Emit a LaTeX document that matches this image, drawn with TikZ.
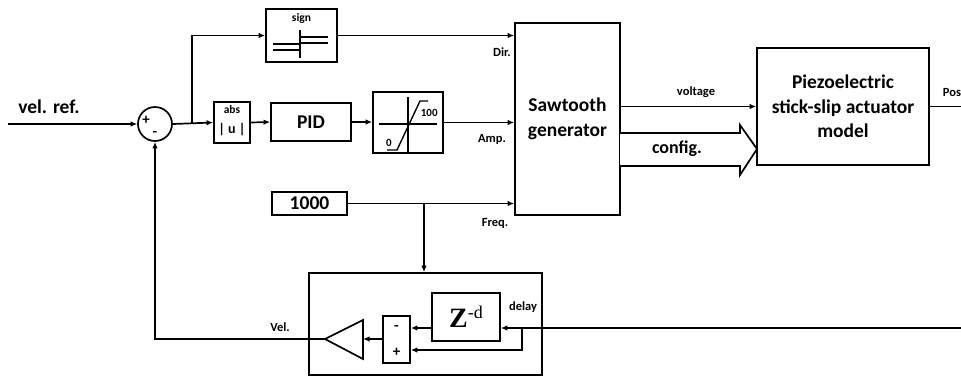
\documentclass[tikz,border=0pt]{standalone}
\usepackage{fontspec}
\setmainfont{Carlito}
\newfontfamily\zfont{Liberation Serif}
\usetikzlibrary{arrows.meta}
\tikzset{sig/.style={line width=1.7pt, -{Latex[length=6.5pt,width=5.5pt]}},
  blk/.style={draw, line width=1.7pt, inner sep=0pt, fill=white},
  big/.style={font=\fontsize{19.5}{24.5}\selectfont\bfseries, align=center},
  lbl/.style={font=\fontsize{12.5}{14}\selectfont\bfseries, inner sep=0pt}}

\begin{document}
\begin{tikzpicture}[x=1pt, y=-1pt, line width=1.7pt]
\useasboundingbox (0,0) rectangle (961,376);
\node[blk, circle, minimum size=34pt] (sum) at (155,124) {};
\node[lbl, font=\fontsize{15}{15}\selectfont\bfseries] at (146,120) {+}; \node[lbl, font=\fontsize{15}{15}\selectfont\bfseries] at (155,134) {-};
\node[blk, minimum width=36pt, minimum height=41pt] (abs) at (232,122.5) {};
\node[lbl, font=\fontsize{11.5}{12}\selectfont\bfseries] at (232,110) {abs}; \node[lbl, font=\fontsize{14}{14}\selectfont\bfseries] at (232,130) {| u |};
\node[blk, big, minimum width=80pt, minimum height=38pt] (pid) at (311,122) {PID};
\node[blk, minimum width=70pt, minimum height=61pt] (sat) at (408,122.5) {};
\draw[line width=1.4pt] (379,124) -- (437,124) (408,97) -- (408,153);
\draw[line width=1.4pt] (387,150) -- (397,150) -- (420,101) -- (428,101);
\node[lbl, font=\fontsize{11}{12}\selectfont\bfseries, anchor=west] at (420,113) {100}; \node[lbl, font=\fontsize{11}{12}\selectfont\bfseries] at (389,143) {0};
\node[blk, minimum width=71pt, minimum height=53pt] (sign) at (301.5,35.5) {};
\node[lbl, font=\fontsize{11.5}{12}\selectfont\bfseries] at (301.5,18) {sign};
\draw[line width=1.4pt] (300,30) -- (300,58) (300,37) -- (328,37) (300,43) -- (328,43) (273,44) -- (300,44) (273,50) -- (300,50);
\node[blk, big, minimum width=105pt, minimum height=192pt] (saw) at (567.5,119) {Sawtooth\\generator};
\node[blk, big, minimum width=172pt, minimum height=117pt] (piezo) at (843,106.5) {Piezoelectric\\stick-slip actuator\\model};
\node[blk, big, minimum width=75pt, minimum height=23pt] (const) at (309.5,203.5) {1000};
\node[blk, minimum width=233pt, minimum height=102pt] (dblk) at (425.5,324) {};
\node[blk, minimum width=68pt, minimum height=48pt] (zbox) at (466,317) {\zfont\fontsize{28}{28}\selectfont\textbf{Z}\raisebox{9pt}{\fontsize{18}{18}\selectfont -d}};
\node[blk, minimum width=27pt, minimum height=47pt] (pm) at (396.5,339.5) {};
\node[lbl, font=\fontsize{15}{15}\selectfont\bfseries] at (396.5,328) {-}; \node[lbl, font=\fontsize{15}{15}\selectfont\bfseries] at (396.5,352) {+};
\draw[fill=white] (363,320) -- (363,359) -- (325,339) -- cycle;
\coordinate (gin) at (363,339); \coordinate (gout) at (325,339);
\coordinate (in) at (8,124); \coordinate (br1) at (192,124); \coordinate (br2) at (424,203.5);
\coordinate (fbin) at (961,328); \coordinate (br3) at (522,328); \coordinate (pos) at (961,106.5);
\draw[sig] (in) -- (sum.west); \node[big, anchor=base] at (49,113) {vel. ref.};
\draw[sig] (sum.east) -- (abs.west); \draw[sig] (br1) |- (sign.west);
\draw[sig] (abs.east) -- (pid.west); \draw[sig] (pid.east) -- (sat.west |- pid.east);
\draw[sig] (sign.east) -- (sign.east -| saw.west); \node[lbl] at (502,52) {Dir.};
\draw[sig] (sat.east) -- (sat.east -| saw.west); \node[lbl] at (492,139) {Amp.};
\draw[sig] (const.east) -- (const.east -| saw.west); \node[lbl] at (495,223) {Freq.};
\draw[sig] (br2) -- (br2 |- dblk.north);
\draw[sig] (saw.east |- piezo.west) -- (piezo.west); \node[lbl] at (696,92) {voltage};
\draw[fill=white] (620,133) -- (740,133) -- (740,125) -- (757,149) -- (740,175) -- (740,166) -- (620,166);
\node[big, font=\fontsize{18}{20}\selectfont\bfseries] at (677,149) {config.};
\draw (piezo.east) -- (pos); \node[lbl, anchor=west] at (942,92) {Pos};
\draw[sig] (fbin) -- (zbox.east |- fbin); \node[lbl] at (523,307) {delay};
\draw[sig] (br3) |- (pm.east |- 0,350);
\draw[sig] (zbox.west |- fbin) -- (pm.east |- fbin);
\draw[sig] (pm.west |- gin) -- (gin);
\draw[sig] (gout) -| (sum.south); \node[lbl] at (280,327) {Vel.};
\end{tikzpicture}
\end{document}
